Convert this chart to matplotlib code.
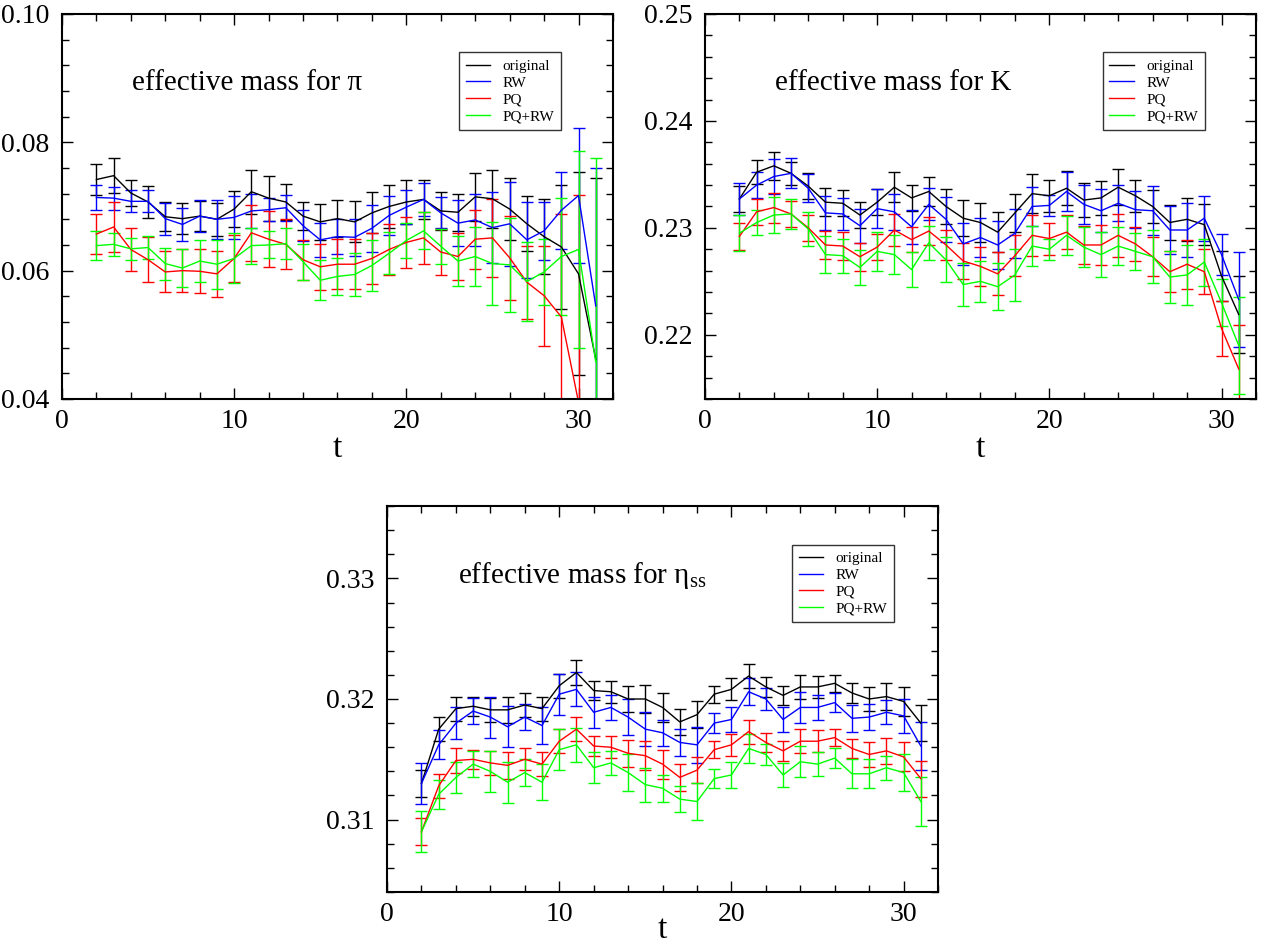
import numpy as np
import matplotlib
matplotlib.use("Agg")
import matplotlib.pyplot as plt
from matplotlib.lines import Line2D
from matplotlib.ticker import MultipleLocator, FormatStrFormatter

plt.rcParams['font.family'] = ['Liberation Serif', 'DejaVu Serif']
plt.rcParams['mathtext.fontset'] = 'custom'
plt.rcParams['mathtext.rm'] = 'Liberation Serif'
plt.rcParams['mathtext.it'] = 'Liberation Serif:italic'

nan = np.nan
t = np.arange(2, 32)

# pion
pi_orig = [0.0742, 0.0748, 0.0721, 0.0707, 0.0684, 0.0681, 0.0685, 0.0680, 0.0696, 0.0723,
           0.0713, 0.0707, 0.0685, 0.0676, 0.0681, 0.0676, 0.0690, 0.0700, 0.0707, 0.0711,
           0.0693, 0.0691, 0.0715, 0.0712, 0.0696, 0.0673, 0.0653, 0.0637, 0.0595, 0.0462]
pi_orig_err = [0.0024, 0.0027, 0.0020, 0.0025, 0.0023, 0.0024, 0.0024, 0.0026, 0.0028, 0.0034,
               0.0035, 0.0028, 0.0022, 0.0028, 0.0029, 0.0032, 0.0032, 0.0034, 0.0034, 0.0031,
               0.0030, 0.0029, 0.0037, 0.0045, 0.0048, 0.0043, 0.0059, 0.0097, 0.0158, 0.0282]
pi_rw = [0.0714, 0.0713, 0.0708, 0.0708, 0.0681, 0.0672, 0.0685, 0.0680, 0.0683, 0.0693,
         0.0695, 0.0698, 0.0670, 0.0648, 0.0653, 0.0652, 0.0666, 0.0686, 0.0699, 0.0711,
         0.0690, 0.0674, 0.0679, 0.0667, 0.0673, 0.0648, 0.0662, 0.0694, 0.0717, 0.0545]
pi_rw_err = [0.0020, 0.0018, 0.0017, 0.0017, 0.0025, 0.0026, 0.0025, 0.0030, 0.0033, 0.0027,
             0.0018, 0.0020, 0.0024, 0.0027, 0.0027, 0.0029, 0.0037, 0.0030, 0.0027, 0.0026,
             0.0024, 0.0036, 0.0041, 0.0055, 0.0065, 0.0059, 0.0045, 0.0060, 0.0105, 0.0215]
pi_pq = [0.0657, 0.0668, 0.0633, 0.0617, 0.0598, 0.0600, 0.0599, 0.0595, 0.0619, 0.0659,
         0.0649, 0.0641, 0.0617, 0.0606, 0.0610, 0.0610, 0.0619, 0.0633, 0.0644, 0.0651,
         0.0629, 0.0622, 0.0649, 0.0651, 0.0620, 0.0582, 0.0561, 0.0528, 0.0395, nan]
pi_pq_err = [0.0031, 0.0039, 0.0034, 0.0035, 0.0032, 0.0034, 0.0034, 0.0036, 0.0037, 0.0044,
             0.0044, 0.0039, 0.0031, 0.0036, 0.0039, 0.0039, 0.0040, 0.0040, 0.0040, 0.0040,
             0.0036, 0.0036, 0.0046, 0.0061, 0.0065, 0.0057, 0.0078, 0.0160, 0.0323, nan]
pi_pqrw = [0.0639, 0.0641, 0.0634, 0.0636, 0.0611, 0.0604, 0.0615, 0.0610, 0.0619, 0.0639,
           0.0640, 0.0642, 0.0614, 0.0585, 0.0591, 0.0594, 0.0608, 0.0627, 0.0647, 0.0662,
           0.0638, 0.0615, 0.0622, 0.0611, 0.0609, 0.0583, 0.0598, 0.0622, 0.0633, 0.0458]
pi_pqrw_err = [0.0022, 0.0018, 0.0017, 0.0018, 0.0025, 0.0029, 0.0032, 0.0038, 0.0039, 0.0028,
               0.0021, 0.0024, 0.0028, 0.0031, 0.0029, 0.0033, 0.0040, 0.0033, 0.0028, 0.0029,
               0.0027, 0.0039, 0.0046, 0.0065, 0.0073, 0.0062, 0.0052, 0.0091, 0.0153, 0.0318]

# kaon
k_orig = [0.2327, 0.2352, 0.2358, 0.2351, 0.2339, 0.2324, 0.2323, 0.2312, 0.2324, 0.2338,
          0.2328, 0.2334, 0.2320, 0.2309, 0.2305, 0.2296, 0.2314, 0.2332, 0.2330, 0.2337,
          0.2326, 0.2328, 0.2338, 0.2330, 0.2320, 0.2305, 0.2308, 0.2303, 0.2255, 0.2219]
k_orig_err = [0.0012, 0.0011, 0.0013, 0.0011, 0.0012, 0.0013, 0.0012, 0.0012, 0.0012, 0.0014,
              0.0012, 0.0014, 0.0016, 0.0017, 0.0018, 0.0019, 0.0018, 0.0018, 0.0015, 0.0016,
              0.0016, 0.0016, 0.0017, 0.0015, 0.0015, 0.0016, 0.0020, 0.0019, 0.0023, 0.0036]
k_rw = [0.2327, 0.2340, 0.2348, 0.2351, 0.2337, 0.2314, 0.2313, 0.2302, 0.2318, 0.2315,
        0.2301, 0.2322, 0.2308, 0.2285, 0.2291, 0.2284, 0.2295, 0.2320, 0.2321, 0.2334,
        0.2322, 0.2316, 0.2323, 0.2317, 0.2316, 0.2298, 0.2298, 0.2309, 0.2275, 0.2233]
k_rw_err = [0.0015, 0.0012, 0.0016, 0.0014, 0.0013, 0.0016, 0.0015, 0.0016, 0.0018, 0.0017,
            0.0016, 0.0015, 0.0021, 0.0020, 0.0018, 0.0022, 0.0023, 0.0018, 0.0010, 0.0018,
            0.0018, 0.0020, 0.0017, 0.0017, 0.0023, 0.0022, 0.0025, 0.0021, 0.0019, 0.0044]
k_pq = [0.2292, 0.2315, 0.2319, 0.2313, 0.2300, 0.2284, 0.2283, 0.2273, 0.2282, 0.2298,
        0.2289, 0.2297, 0.2284, 0.2269, 0.2264, 0.2257, 0.2274, 0.2293, 0.2290, 0.2296,
        0.2284, 0.2284, 0.2293, 0.2285, 0.2273, 0.2259, 0.2266, 0.2259, 0.2206, 0.2168]
k_pq_err = [0.0013, 0.0012, 0.0014, 0.0012, 0.0012, 0.0013, 0.0013, 0.0013, 0.0012, 0.0015,
            0.0012, 0.0013, 0.0014, 0.0017, 0.0018, 0.0020, 0.0019, 0.0019, 0.0015, 0.0016,
            0.0018, 0.0019, 0.0020, 0.0016, 0.0018, 0.0019, 0.0023, 0.0021, 0.0026, 0.0041]
k_pqrw = [0.2295, 0.2305, 0.2312, 0.2313, 0.2299, 0.2275, 0.2274, 0.2263, 0.2278, 0.2275,
          0.2261, 0.2286, 0.2270, 0.2247, 0.2250, 0.2245, 0.2256, 0.2283, 0.2280, 0.2293,
          0.2282, 0.2275, 0.2283, 0.2278, 0.2273, 0.2254, 0.2256, 0.2268, 0.2230, 0.2190]
k_pqrw_err = [0.0017, 0.0012, 0.0017, 0.0014, 0.0016, 0.0017, 0.0016, 0.0016, 0.0018, 0.0018,
              0.0016, 0.0016, 0.0021, 0.0020, 0.0019, 0.0022, 0.0024, 0.0019, 0.0010, 0.0018,
              0.0019, 0.0021, 0.0018, 0.0017, 0.0025, 0.0024, 0.0028, 0.0022, 0.0022, 0.0045]

# eta_ss
eta_orig = [0.3130, 0.3175, 0.3192, 0.3194, 0.3191, 0.3191, 0.3195, 0.3192, 0.3211, 0.3222,
            0.3207, 0.3206, 0.3200, 0.3200, 0.3193, 0.3181, 0.3187, 0.3204, 0.3208, 0.3219,
            0.3210, 0.3203, 0.3210, 0.3210, 0.3213, 0.3205, 0.3200, 0.3202, 0.3198, 0.3180]
eta_orig_err = [0.0011, 0.0010, 0.0010, 0.0008, 0.0010, 0.0011, 0.0010, 0.0010, 0.0010, 0.0010,
                0.0008, 0.0009, 0.0011, 0.0012, 0.0012, 0.0011, 0.0011, 0.0007, 0.0009, 0.0010,
                0.0008, 0.0008, 0.0010, 0.0009, 0.0007, 0.0008, 0.0010, 0.0011, 0.0012, 0.0015]
eta_rw = [0.3130, 0.3162, 0.3180, 0.3190, 0.3185, 0.3177, 0.3185, 0.3178, 0.3204, 0.3208,
          0.3189, 0.3193, 0.3185, 0.3175, 0.3172, 0.3164, 0.3162, 0.3180, 0.3183, 0.3206,
          0.3200, 0.3183, 0.3193, 0.3193, 0.3197, 0.3184, 0.3185, 0.3189, 0.3186, 0.3161]
eta_rw_err = [0.0017, 0.0012, 0.0013, 0.0011, 0.0017, 0.0017, 0.0011, 0.0015, 0.0017, 0.0014,
              0.0013, 0.0010, 0.0015, 0.0014, 0.0011, 0.0011, 0.0015, 0.0008, 0.0010, 0.0011,
              0.0009, 0.0010, 0.0013, 0.0010, 0.0008, 0.0011, 0.0011, 0.0010, 0.0014, 0.0020]
eta_pq = [0.3090, 0.3128, 0.3149, 0.3150, 0.3147, 0.3145, 0.3150, 0.3146, 0.3165, 0.3175,
          0.3161, 0.3160, 0.3155, 0.3153, 0.3146, 0.3135, 0.3141, 0.3158, 0.3162, 0.3173,
          0.3164, 0.3157, 0.3165, 0.3165, 0.3168, 0.3159, 0.3154, 0.3157, 0.3152, 0.3134]
eta_pq_err = [0.0011, 0.0010, 0.0010, 0.0008, 0.0010, 0.0011, 0.0009, 0.0010, 0.0010, 0.0010,
              0.0008, 0.0009, 0.0011, 0.0012, 0.0012, 0.0011, 0.0011, 0.0007, 0.0009, 0.0010,
              0.0008, 0.0008, 0.0010, 0.0009, 0.0007, 0.0008, 0.0010, 0.0011, 0.0012, 0.0015]
eta_pqrw = [0.3090, 0.3121, 0.3135, 0.3146, 0.3140, 0.3131, 0.3139, 0.3131, 0.3158, 0.3162,
            0.3143, 0.3147, 0.3139, 0.3129, 0.3126, 0.3117, 0.3115, 0.3134, 0.3137, 0.3159,
            0.3154, 0.3137, 0.3148, 0.3146, 0.3151, 0.3138, 0.3138, 0.3143, 0.3139, 0.3115]
eta_pqrw_err = [0.0017, 0.0012, 0.0013, 0.0011, 0.0017, 0.0017, 0.0011, 0.0015, 0.0017, 0.0014,
                0.0013, 0.0010, 0.0015, 0.0014, 0.0011, 0.0011, 0.0015, 0.0008, 0.0011, 0.0012,
                0.0009, 0.0010, 0.0013, 0.0010, 0.0008, 0.0012, 0.0012, 0.0010, 0.0015, 0.0020]

labels = ['original', 'RW', 'PQ', 'PQ+RW']
colors = ['black', 'blue', 'red', '#00ff00']


def panel(ax, series, errors, title, ylim, ymajor, yminor, leg_x, leg_y, xlabelpad=2):
    for y, e, c in zip(series, errors, colors):
        ax.errorbar(t, y, yerr=e, color=c, lw=1.0, elinewidth=1.0,
                    capsize=4, capthick=1.0)
    ax.set_xlim(0, 32)
    ax.set_ylim(*ylim)
    ax.xaxis.set_major_locator(MultipleLocator(10))
    ax.xaxis.set_minor_locator(MultipleLocator(2))
    ax.yaxis.set_major_locator(MultipleLocator(ymajor))
    ax.yaxis.set_minor_locator(MultipleLocator(yminor))
    ax.yaxis.set_major_formatter(FormatStrFormatter('%.2f'))
    ax.tick_params(which='both', direction='in', top=True, right=True, width=1.0,
                   labelsize=20)
    ax.tick_params(axis='y', which='both', pad=9)
    ax.tick_params(axis='x', which='both', pad=7)
    ax.tick_params(which='major', length=8)
    ax.tick_params(which='minor', length=5)
    for s in ax.spines.values():
        s.set_linewidth(1.5)
    ax.set_xlabel('t', fontsize=24, labelpad=xlabelpad)
    ax.text(0.128, 0.82, title, transform=ax.transAxes, fontsize=21,
            ha='left', va='center')
    handles = [Line2D([], [], color=c, lw=1.0) for c in colors]
    leg = ax.legend(handles, labels, loc='upper right', bbox_to_anchor=(leg_x, leg_y),
                    borderaxespad=0, fontsize=11, frameon=True, fancybox=False,
                    handlelength=1.6, handletextpad=0.8, labelspacing=0.2,
                    borderpad=0.45)
    leg.get_frame().set_edgecolor('black')
    leg.get_frame().set_linewidth(1.0)


fig = plt.figure(figsize=(12.62, 9.43), dpi=100)
ax1 = fig.add_axes([0.0491, 0.5769, 0.4366, 0.4083])
ax2 = fig.add_axes([0.5586, 0.5769, 0.4366, 0.4083])
ax3 = fig.add_axes([0.3067, 0.0541, 0.4366, 0.4093])

panel(ax1, [pi_orig, pi_rw, pi_pq, pi_pqrw],
      [pi_orig_err, pi_rw_err, pi_pq_err, pi_pqrw_err],
      'effective mass for π', (0.04, 0.10), 0.02, 0.004, 0.906, 0.90, xlabelpad=0)
panel(ax2, [k_orig, k_rw, k_pq, k_pqrw],
      [k_orig_err, k_rw_err, k_pq_err, k_pqrw_err],
      'effective mass for K', (0.214, 0.25), 0.01, 0.002, 0.907, 0.90, xlabelpad=0)
panel(ax3, [eta_orig, eta_rw, eta_pq, eta_pqrw],
      [eta_orig_err, eta_rw_err, eta_pq_err, eta_pqrw_err],
      r'effective mass for $\mathrm{η}_{\mathrm{ss}}$', (0.304, 0.336), 0.01, 0.002,
      0.92, 0.90, xlabelpad=-9)

fig.savefig('out.png', dpi=100)
